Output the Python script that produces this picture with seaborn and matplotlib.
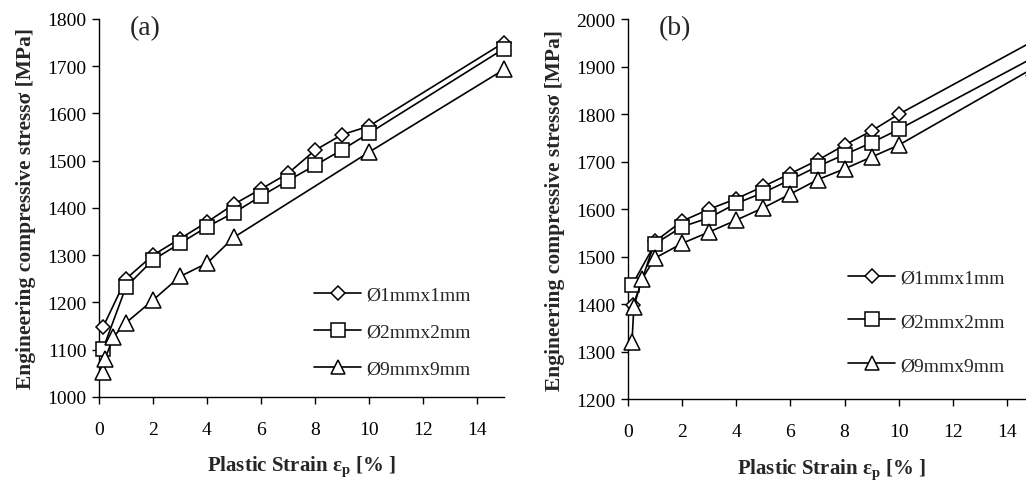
import numpy as np
import pandas as pd
import seaborn as sns
import matplotlib.pyplot as plt
from matplotlib.lines import Line2D

# series labels and marker shapes
series_names = ['Ø1mmx1mm', 'Ø2mmx2mm', 'Ø9mmx9mm']
series_markers = ['D', 's', '^']

# panel (a)
a_x_1mm = [0.15, 1, 2, 3, 4, 5, 6, 7, 8, 9, 10, 15]
a_y_1mm = [1148, 1250, 1300, 1335, 1370, 1408, 1440, 1473, 1522, 1555, 1573, 1750]
a_x_2mm = [0.15, 1, 2, 3, 4, 5, 6, 7, 8, 9, 10, 15]
a_y_2mm = [1102, 1233, 1290, 1325, 1360, 1390, 1425, 1458, 1490, 1523, 1558, 1737]
a_x_9mm = [0.13, 0.22, 0.53, 1, 2, 3, 4, 5, 10, 15]
a_y_9mm = [1053, 1080, 1127, 1157, 1205, 1255, 1283, 1338, 1518, 1693]

# panel (b)
b_x_1mm = [0.2, 1, 2, 3, 4, 5, 6, 7, 8, 9, 10, 15]
b_y_1mm = [1398, 1532, 1575, 1600, 1622, 1648, 1675, 1703, 1735, 1765, 1800, 1955]
b_x_2mm = [0.15, 1, 2, 3, 4, 5, 6, 7, 8, 9, 10, 15]
b_y_2mm = [1440, 1527, 1563, 1582, 1612, 1635, 1662, 1690, 1715, 1740, 1768, 1920]
b_x_9mm = [0.15, 0.22, 0.52, 1, 2, 3, 4, 5, 6, 7, 8, 9, 10, 15]
b_y_9mm = [1320, 1395, 1453, 1497, 1528, 1552, 1577, 1603, 1632, 1662, 1685, 1710, 1735, 1898]

sns.set_style("ticks")
plt.rcParams['font.family'] = ['Liberation Serif', 'DejaVu Serif']
plt.rcParams['mathtext.fontset'] = 'custom'
plt.rcParams['mathtext.rm'] = 'Liberation Serif'
plt.rcParams['mathtext.bf'] = 'Liberation Serif:bold'

fig = plt.figure(figsize=(10.26, 4.81), dpi=100)
ax_a = fig.add_axes([0.0965, 0.1726, 0.3947, 0.786])
ax_b = fig.add_axes([0.612, 0.168, 0.396, 0.790])

# axes, data, y range, tag, legend spacing, legend anchor
panels = [
    (ax_a, [(a_x_1mm, a_y_1mm), (a_x_2mm, a_y_2mm), (a_x_9mm, a_y_9mm)],
     (1000, 1800), '(a)', 1.0, (0.96, 0.005)),
    (ax_b, [(b_x_1mm, b_y_1mm), (b_x_2mm, b_y_2mm), (b_x_9mm, b_y_9mm)],
     (1200, 2000), '(b)', 1.35, (0.97, 0.02)),
]

msizes = {'D': 7.5, 's': 10.5, '^': 11}

for ax, data, ylim, tag, lspace, anchor in panels:
    for (xs, ys), name, mk in zip(data, series_names, series_markers):
        df = pd.DataFrame({'strain': xs, 'stress': ys})
        sns.lineplot(data=df, x='strain', y='stress', ax=ax, color='black',
                     lw=1.2, marker=mk, ms=msizes[mk], mfc='white', mec='black',
                     mew=1.1, clip_on=False, zorder=3)
    ax.set_xlim(0, 15)
    ax.set_ylim(*ylim)
    ax.set_xticks(np.arange(0, 15, 2))
    ax.set_yticks(np.arange(ylim[0], ylim[1] + 1, 100))
    sns.despine(ax=ax)
    for s in ['left', 'bottom']:
        ax.spines[s].set_linewidth(1.0)
        ax.spines[s].set_color('black')
    ax.tick_params(axis='both', direction='out', length=5, width=1.0,
                   labelsize=14, colors='black', pad=4)
    ax.tick_params(axis='x', pad=12)
    ax.set_xlabel('Plastic Strain ε$_\\mathbf{p}$ [% ]', fontsize=15,
                  fontweight='bold', labelpad=12)
    ax.set_ylabel('Engineering compressive stressσ [MPa]', fontsize=15.5,
                  fontweight='bold', labelpad=8)
    ax.text(0.077, 0.978, tag, transform=ax.transAxes, fontsize=20,
            ha='left', va='center')
    handles = [Line2D([], [], color='black', lw=1.2, marker=mk,
                      ms=msizes[mk] * 0.9, mfc='white', mec='black', mew=1.1)
               for mk in series_markers]
    ax.legend(handles, series_names, frameon=False, fontsize=14,
              handlelength=2.4, handletextpad=0.25, labelspacing=lspace,
              loc='lower right', bbox_to_anchor=anchor)

fig.savefig('out.png', dpi=100)
